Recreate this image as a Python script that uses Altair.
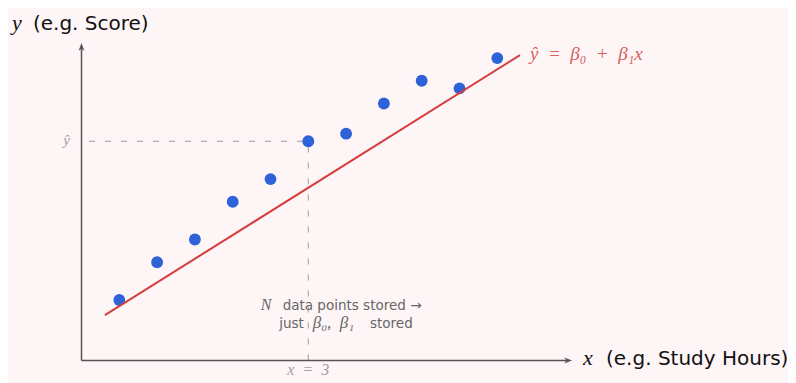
import altair as alt
import pandas as pd

# ---- data ----
study_hours = [0.5, 1.0, 1.5, 2.0, 2.5, 3.0, 3.5, 4.0, 4.5, 5.0, 5.5]
scores = [0.8, 1.3, 1.6, 2.1, 2.4, 2.9, 3.0, 3.4, 3.7, 3.6, 4.0]
fit_x = [0.31, 5.80]
fit_y = [0.60, 4.04]
highlight_x = 3.0
highlight_y = 2.9
x_axis_end = 6.49
y_axis_end = 4.20

# ---- layout ----
W, H = 780, 375
PX = 75.6            # pixels per data unit
X0_PX, Y0_PX = 73.5, 352.5   # origin inside the chart
XS = alt.Scale(domain=[-X0_PX / PX, (W - X0_PX) / PX], nice=False, zero=False)
YS = alt.Scale(domain=[(Y0_PX - H) / PX, Y0_PX / PX], nice=False, zero=False)

BG = "#fef5f6"
AXIS_C = "#555555"
DASH_C = "#9a9a9a"
PT_C = "#2e62d9"
LINE_C = "#d63c3c"
LABEL_RED = "#d9605c"
SANS = "DejaVu Sans"
MATH = "Liberation Serif"
SP = " \u00a0"   # widened space (TeX-like math spacing)


def xy(df):
    return dict(x=alt.X("x:Q", scale=XS, axis=None), y=alt.Y("y:Q", scale=YS, axis=None))


def seg(df):
    return dict(
        x=alt.X("x:Q", scale=XS, axis=None),
        y=alt.Y("y:Q", scale=YS, axis=None),
        x2="x2:Q",
        y2="y2:Q",
    )


def text(t, x, y, size, color, font, italic=False, align="left", baseline="alphabetic"):
    df = pd.DataFrame({"x": [x], "y": [y], "t": [t]})
    kw = dict(align=align, baseline=baseline, fontSize=size, color=color, font=font)
    if italic:
        kw["fontStyle"] = "italic"
    return alt.Chart(df).mark_text(**kw).encode(**xy(df), text="t:N")


dash_df = pd.DataFrame({
    "x": [0.1, highlight_x], "y": [highlight_y, 0.0],
    "x2": [highlight_x, highlight_x], "y2": [highlight_y, highlight_y],
})
dashes = alt.Chart(dash_df).mark_rule(color=DASH_C, strokeWidth=1, strokeDash=[6, 10]).encode(**seg(dash_df))

axes_df = pd.DataFrame({"x": [0.0, 0.0], "y": [0.0, 0.0], "x2": [x_axis_end - 0.04, 0.0], "y2": [0.0, y_axis_end - 0.05]})
axes = alt.Chart(axes_df).mark_rule(color=AXIS_C, strokeWidth=1.5).encode(**seg(axes_df))

ax_arrow_df = pd.DataFrame({"x": [x_axis_end - 4 / PX], "y": [0.0]})
ax_arrow = alt.Chart(ax_arrow_df).mark_point(
    shape="M1,0L-1,-0.75L-0.45,0L-1,0.75Z", filled=True, size=60, color=AXIS_C, opacity=1, strokeWidth=0
).encode(**xy(ax_arrow_df))
ay_arrow_df = pd.DataFrame({"x": [0.0], "y": [y_axis_end - 4 / PX]})
ay_arrow = alt.Chart(ay_arrow_df).mark_point(
    shape="M0,-1L-0.75,1L0,0.45L0.75,1Z", filled=True, size=60, color=AXIS_C, opacity=1, strokeWidth=0
).encode(**xy(ay_arrow_df))

pts_df = pd.DataFrame({"x": study_hours, "y": scores})
points = alt.Chart(pts_df).mark_circle(size=140, color=PT_C, opacity=1).encode(**xy(pts_df))

fit_df = pd.DataFrame({"x": fit_x, "y": fit_y})
fit = alt.Chart(fit_df).mark_line(color=LINE_C, strokeWidth=2).encode(**xy(fit_df))

texts = [
    text("y", -0.919, 4.372, 22, "#111111", MATH, italic=True),
    text("(e.g. Score)", -0.642, 4.372, 20, "#111111", SANS),
    text("x", 6.634, -0.060, 22, "#111111", MATH, italic=True),
    text("(e.g. Study Hours)", 6.938, -0.060, 20, "#111111", SANS),
    text(f"ŷ{SP}={SP}β₀{SP}+{SP}β₁x", 5.933, 3.975, 19, LABEL_RED, MATH, italic=True),
    text("ŷ", -0.196, 2.85, 15, "#a0a0a0", MATH, italic=True, align="center"),
    text(f"x{SP}={SP}3", 3.0, -0.19, 16, "#a0a0a0", MATH, italic=True, align="center"),
    text("N", 2.370, 0.668, 16, "#666666", MATH, italic=True),
    text("data points stored →", 2.661, 0.668, 13.5, "#666666", SANS),
    text("just", 2.616, 0.426, 13.5, "#666666", SANS),
    text("β₀,\u00a0\u00a0β₁", 3.058, 0.426, 17, "#666666", MATH, italic=True),
    text("stored", 3.816, 0.426, 13.5, "#666666", SANS),
]

chart = alt.layer(dashes, axes, ax_arrow, ay_arrow, points, fit, *texts).properties(
    width=W, height=H,
    autosize=alt.AutoSizeParams(type="none"),
    padding=0,
    background=BG,
).configure_view(stroke=None)

chart.save("out.html", embed_options={"renderer": "svg", "actions": False})
